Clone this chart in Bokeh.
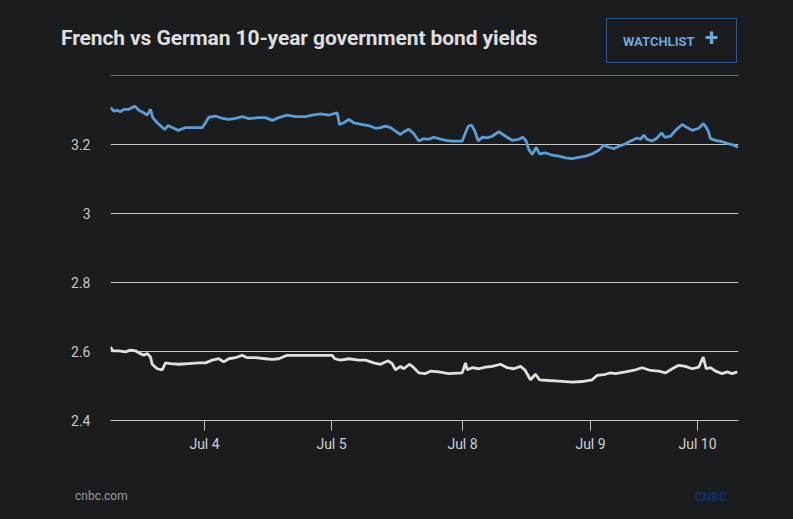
from bokeh.plotting import figure
from bokeh.models import (Range1d, FixedTicker, CustomJSTickFormatter, Span, Div)
from bokeh.layouts import column
from bokeh.embed import file_html
from bokeh.resources import INLINE

# ---- data (x = sample index along the 5-day trading window) ----
fr_x = [0, 0.66, 1.34, 2, 2.66, 3.66, 4.86, 5.66, 6.66, 7.34, 8, 8.46, 9.34, 10.34, 10.86,
        11.54, 12.34, 13.54, 15, 16.34, 18.34, 19, 19.66, 21, 22.34, 23.66, 25, 26.34, 27.66,
        29.66, 31, 32.34, 33.66, 35.34, 37, 39, 40.34, 42, 43.66, 45.34, 45.8, 46.66, 47.66,
        48.66, 49.66, 51, 52, 53, 54, 55, 56, 57, 58, 58.66, 59.66, 60.66, 61.66, 62.66, 63.66,
        64.66, 65.66, 67, 68.34, 70.34, 71, 71.54, 72.2, 72.86, 73.54, 74.34, 75.34, 76.34,
        77.66, 79, 80.34, 81.66, 82.46, 83.14, 83.66, 84.34, 85.14, 85.8, 87, 88.34, 89.66, 91,
        92.34, 93.66, 95, 96.34, 97.66, 98.66, 99.66, 100.66, 101.66, 103, 104.34, 105.34, 106,
        106.66, 107.34, 108.34, 109.34, 110.2, 110.86, 112, 113, 114.34, 115.34, 116.34, 117.66,
        118.54, 119, 119.54, 120, 121, 122.34, 123.66, 124.66, 125.54]
fr_y = [3.307, 3.297, 3.299, 3.295, 3.302, 3.302, 3.311, 3.299, 3.292, 3.285, 3.302, 3.278,
        3.263, 3.250, 3.244, 3.255, 3.249, 3.241, 3.249, 3.249, 3.249, 3.263, 3.279, 3.282,
        3.276, 3.273, 3.276, 3.281, 3.275, 3.278, 3.278, 3.270, 3.278, 3.285, 3.281, 3.281,
        3.285, 3.289, 3.285, 3.292, 3.258, 3.263, 3.273, 3.263, 3.260, 3.256, 3.253, 3.247,
        3.249, 3.253, 3.249, 3.239, 3.229, 3.237, 3.244, 3.231, 3.210, 3.217, 3.215, 3.221,
        3.217, 3.212, 3.210, 3.210, 3.234, 3.253, 3.256, 3.239, 3.210, 3.221, 3.219, 3.224,
        3.237, 3.224, 3.212, 3.215, 3.221, 3.210, 3.185, 3.171, 3.192, 3.173, 3.176, 3.169,
        3.166, 3.161, 3.159, 3.163, 3.166, 3.173, 3.183, 3.198, 3.192, 3.188, 3.195, 3.202,
        3.212, 3.219, 3.215, 3.227, 3.215, 3.210, 3.219, 3.234, 3.221, 3.224, 3.241, 3.258,
        3.249, 3.241, 3.247, 3.260, 3.253, 3.239, 3.217, 3.212, 3.208, 3.202, 3.198, 3.192]

de_x = [0, 0.46, 1.66, 3, 4, 5, 5.66, 6.66, 7.34, 8, 8.34, 9.34, 10.34, 11, 12, 13.66, 15.66,
        17.66, 19, 20.34, 21.66, 22.66, 23.66, 25, 26.34, 27.34, 29, 31, 32.34, 33.66, 35.34,
        37.66, 40.34, 42, 44.34, 44.86, 46, 47.66, 49.66, 51, 52.66, 54, 55.54, 56.34, 57, 58,
        58.66, 59.8, 60.66, 61.66, 63, 64, 65.66, 67.66, 70.34, 71, 71.34, 72.34, 73.66, 75,
        76.34, 78, 79.34, 80.66, 82, 82.86, 84, 85, 85.8, 87.66, 89.66, 92.34, 94.34, 96.34,
        97.34, 99, 100, 101, 103, 105, 106.34, 108, 109.66, 111, 112.34, 113.66, 115, 116.34,
        117.66, 118.54, 119.14, 120, 121, 122.34, 123.34, 124.34, 125.34]
de_y = [2.613, 2.602, 2.602, 2.599, 2.604, 2.602, 2.596, 2.589, 2.594, 2.584, 2.563, 2.550,
        2.547, 2.567, 2.565, 2.563, 2.565, 2.567, 2.567, 2.575, 2.579, 2.570, 2.579, 2.582,
        2.589, 2.582, 2.582, 2.579, 2.577, 2.579, 2.589, 2.589, 2.589, 2.589, 2.589, 2.579,
        2.575, 2.579, 2.575, 2.575, 2.567, 2.563, 2.573, 2.565, 2.547, 2.557, 2.550, 2.563,
        2.553, 2.538, 2.536, 2.543, 2.541, 2.536, 2.538, 2.567, 2.547, 2.553, 2.550, 2.555,
        2.557, 2.563, 2.553, 2.550, 2.557, 2.547, 2.518, 2.534, 2.518, 2.516, 2.514, 2.511,
        2.513, 2.518, 2.531, 2.534, 2.538, 2.536, 2.541, 2.547, 2.553, 2.545, 2.543, 2.538,
        2.550, 2.560, 2.557, 2.550, 2.555, 2.584, 2.550, 2.553, 2.543, 2.536, 2.541, 2.536,
        2.541]

tick_pos = [18.8, 44.2, 70.4, 96, 117.4]
tick_labels = ["Jul 4", "Jul 5", "Jul 8", "Jul 9", "Jul 10"]
y_ticks = [2.4, 2.6, 2.8, 3.0, 3.2]

TITLE = "French vs German 10-year government bond yields"
BG = "#1b1c1e"
GRID = "#c4c4c4"
W = 785
HEAD = 66

header = Div(width=W, height=HEAD, margin=0, styles={"background-color": BG}, text=f"""
<div style="position:relative;width:{W}px;height:{HEAD}px;background:{BG};">
  <div style="position:absolute;left:61px;top:23px;font-family:Roboto;font-weight:bold;
       font-size:21px;color:#dedede;white-space:nowrap;letter-spacing:-0.1px;">{TITLE}</div>
  <div style="position:absolute;left:606px;top:18px;width:129px;height:43px;
       border:1px solid #2c5b8c;box-sizing:content-box;">
    <span style="position:absolute;left:16px;top:14px;font-family:Roboto;font-weight:bold;
         font-size:13px;color:#6ea8de;white-space:nowrap;">WATCHLIST</span>
    <span style="position:absolute;left:98px;top:5px;font-family:Roboto;font-weight:bold;
         font-size:24px;color:#6ea8de;line-height:28px;">+</span>
  </div>
</div>""")

p = figure(width=W, height=475 - HEAD, output_backend="svg", toolbar_location=None,
           x_range=Range1d(0, 125.6), y_range=Range1d(2.4, 3.4),
           min_border_left=110, min_border_right=W - 738, min_border_top=75 - HEAD,
           min_border_bottom=55, margin=0)
p.background_fill_color = BG
p.border_fill_color = BG
p.outline_line_color = None

p.line(fr_x, fr_y, line_color="#5c9dd6", line_width=2.8)
p.line(de_x, de_y, line_color="#e3e0d8", line_width=2.8)

p.xgrid.grid_line_color = None
p.ygrid.grid_line_color = GRID
p.ygrid.grid_line_width = 1
p.add_layout(Span(location=3.4, dimension="width", line_color=GRID, line_width=1))

p.yaxis.ticker = FixedTicker(ticks=y_ticks)
p.yaxis.formatter = CustomJSTickFormatter(code="return tick.toString();")
p.yaxis.axis_line_color = None
p.yaxis.major_tick_line_color = None
p.yaxis.minor_tick_line_color = None
p.yaxis.major_label_text_color = "#c8c8c8"
p.yaxis.major_label_text_font = "Roboto"
p.yaxis.major_label_text_font_size = "14px"
p.yaxis.major_label_standoff = 14

p.xaxis.ticker = FixedTicker(ticks=tick_pos)
p.xaxis.major_label_overrides = {t: l for t, l in zip(tick_pos, tick_labels)}
p.xaxis.axis_line_color = GRID
p.xaxis.major_tick_line_color = GRID
p.xaxis.major_tick_in = 0
p.xaxis.major_tick_out = 10
p.xaxis.minor_tick_line_color = None
p.xaxis.major_label_text_color = "#cfcfcf"
p.xaxis.major_label_text_font = "Roboto"
p.xaxis.major_label_text_font_size = "14px"
p.xaxis.major_label_standoff = 5

footer = Div(width=W, height=40, margin=0, styles={"background-color": BG}, text=f"""
<div style="position:relative;width:{W}px;height:40px;background:{BG};">
  <span style="position:absolute;left:75px;top:13px;font-family:Roboto;font-size:12px;
       color:#9a9a9a;white-space:nowrap;">cnbc.com</span>
  <span style="position:absolute;left:695px;top:14px;font-family:Roboto;font-weight:bold;
       font-size:12px;color:#10306e;white-space:nowrap;">CNBC</span>
</div>""")

layout = column(header, p, footer, spacing=0, margin=0,
                styles={"background-color": BG})

html = file_html(layout, INLINE)
html = html.replace("<head>", "<head><style>html,body{background:#1b1c1e;}</style>", 1)
open("out.html", "w").write(html)
